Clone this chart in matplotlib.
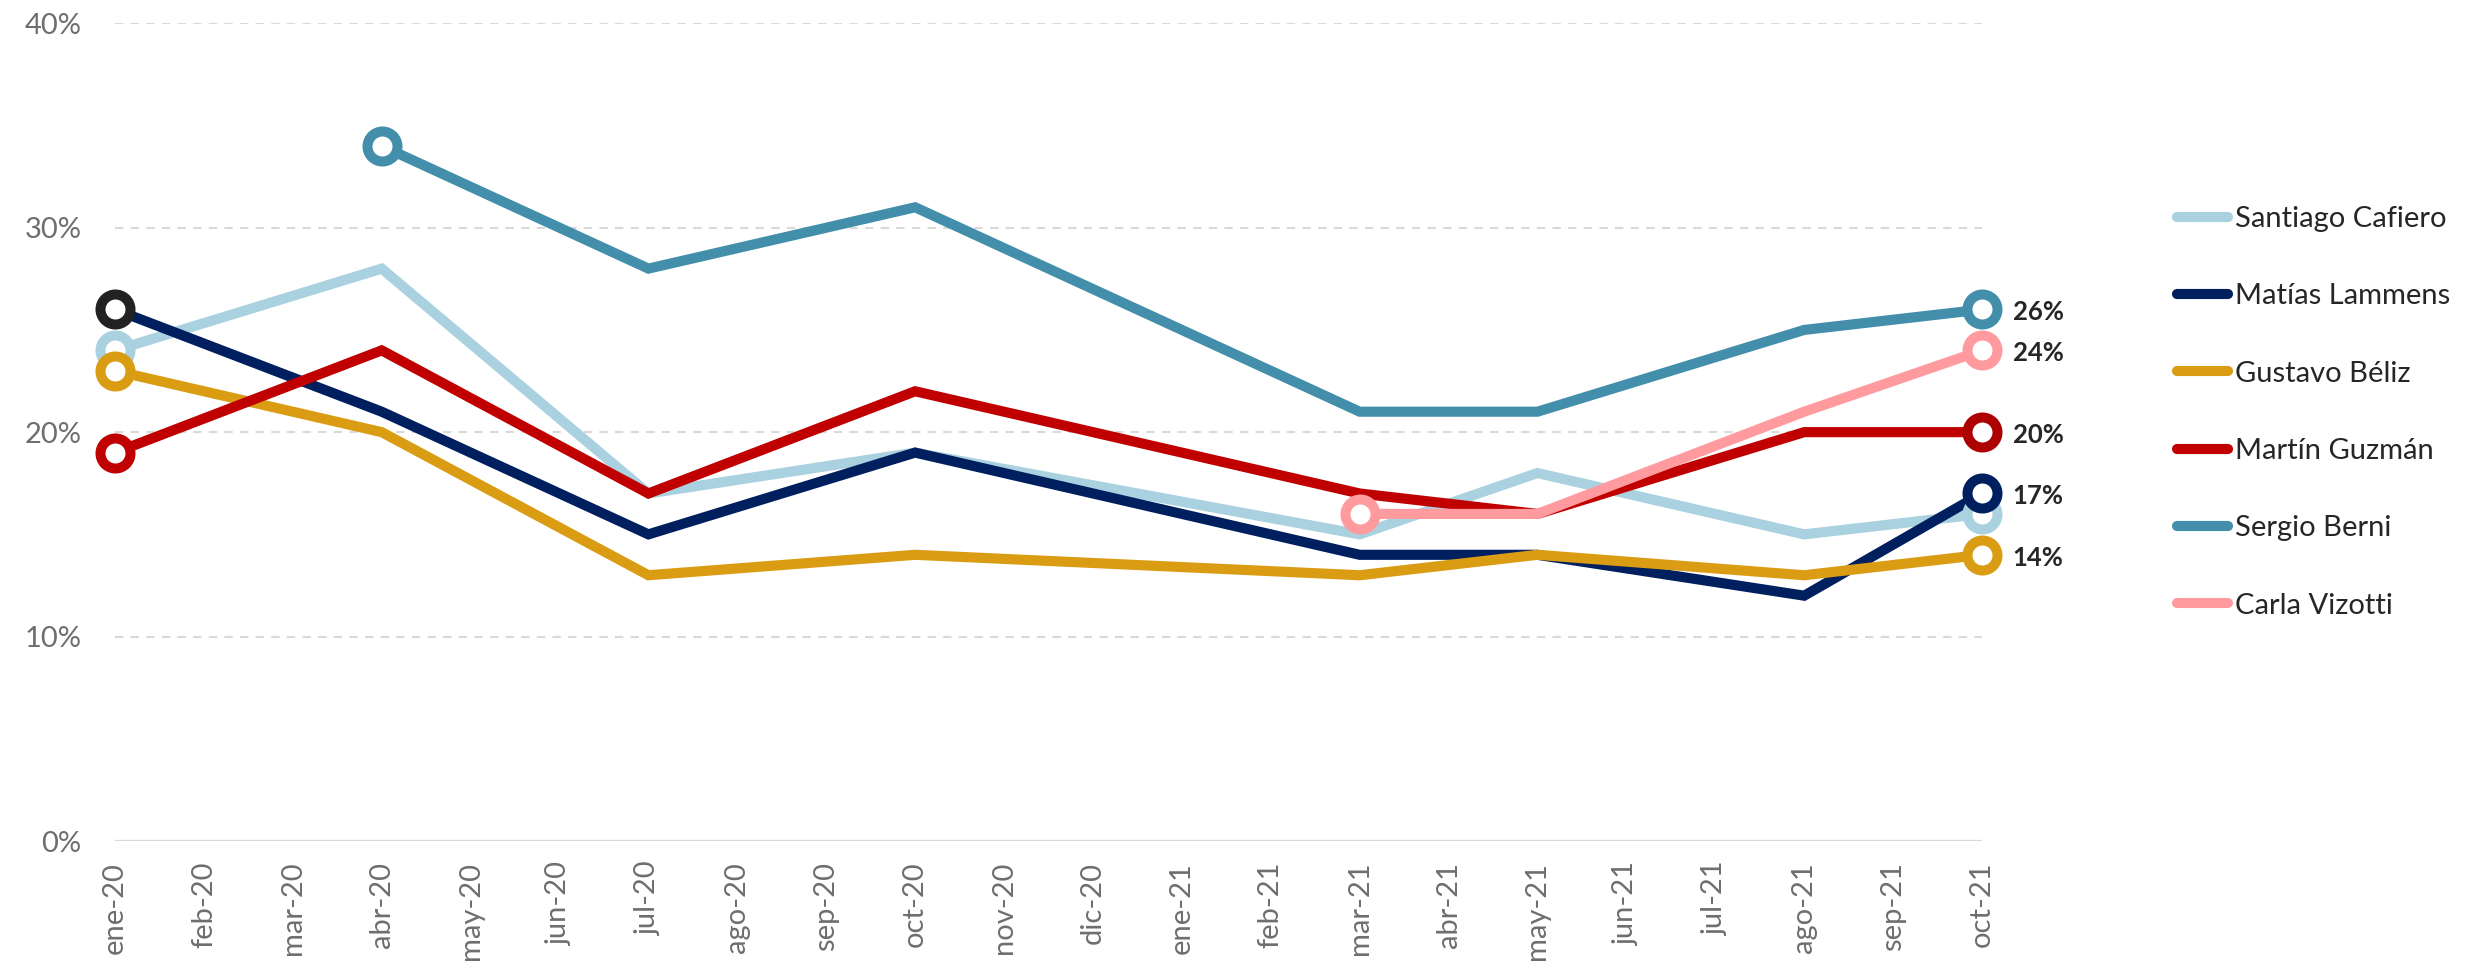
import numpy as np
import matplotlib.pyplot as plt
from matplotlib.lines import Line2D

plt.rcParams['font.family'] = ['Lato', 'DejaVu Sans']

months = ['ene-20', 'feb-20', 'mar-20', 'abr-20', 'may-20', 'jun-20', 'jul-20',
          'ago-20', 'sep-20', 'oct-20', 'nov-20', 'dic-20', 'ene-21', 'feb-21',
          'mar-21', 'abr-21', 'may-21', 'jun-21', 'jul-21', 'ago-21', 'sep-21', 'oct-21']
survey = ['ene-20', 'abr-20', 'jul-20', 'oct-20', 'mar-21', 'may-21', 'ago-21', 'oct-21']

names = ['Santiago Cafiero', 'Matías Lammens', 'Gustavo Béliz',
         'Martín Guzmán', 'Sergio Berni', 'Carla Vizotti']
cafiero = [24, 28, 17, 19, 15, 18, 15, 16]
lammens = [26, 21, 15, 19, 14, 14, 12, 17]
beliz = [23, 20, 13, 14, 13, 14, 13, 14]
guzman = [19, 24, 17, 22, 17, 16, 20, 20]
berni = [None, 34, 28, 31, 21, 21, 25, 26]
vizotti = [None, None, None, None, 16, 16, 21, 24]
series = [cafiero, lammens, beliz, guzman, berni, vizotti]

colors = ['#A9D1DF', '#001F5F', '#DA9C12', '#C00000', '#438FAB', '#FF9B9E']
# marker edge colours differ a bit from the line on a couple of points
start_edge = ['#A9D1DF', '#222222', '#DA9C12', '#C00000', '#438FAB', '#FF9B9E']
end_edge = ['#A9D1DF', '#001F5F', '#DA9C12', '#AD0000', '#438FAB', '#FF9B9E']
labelled = [False, True, True, True, True, True]

fig = plt.figure(figsize=(24.74, 9.67), dpi=100)
ax = fig.add_axes([115 / 2474, 1 - 841 / 967, (1982 - 115) / 2474, (841 - 23.3) / 967])

xs_all = np.array([months.index(m) for m in survey])
handles = []
for i, vals in enumerate(series):
    v = np.array([np.nan if a is None else a / 100 for a in vals])
    ok = ~np.isnan(v)
    x = xs_all[ok]
    y = v[ok]
    ax.plot(x, y, color=colors[i], lw=7.3, solid_joinstyle='miter', zorder=3 + i)
    for xx, yy, ec in [(x[0], y[0], start_edge[i]), (x[-1], y[-1], end_edge[i])]:
        ax.plot([xx], [yy], 'o', ms=21.6, mew=7.2, mfc='white', mec=ec,
                zorder=10 + i, clip_on=False)
    if labelled[i]:
        ax.annotate(f'{vals[-1]}%', (x[-1], y[-1]), xytext=(22, -2),
                    textcoords='offset points', va='center', ha='left',
                    fontsize=18.5, fontweight='bold', color='#262626')
    handles.append(Line2D([], [], color=colors[i], lw=7.3, solid_capstyle='round'))

ax.set_xlim(0, 21)
ax.set_ylim(0, 0.40)
ax.set_yticks([0, 0.1, 0.2, 0.3, 0.4])
ax.set_yticklabels(['0%', '10%', '20%', '30%', '40%'])
ax.set_xticks(range(len(months)))
ax.set_xticklabels(months, rotation=90)
ax.tick_params(axis='both', length=0, labelsize=21, labelcolor='#6E6E6E')
ax.tick_params(axis='y', pad=24)
ax.tick_params(axis='x', pad=15)
for s in ax.spines.values():
    s.set_visible(False)
ax.grid(axis='y', color='#D9D9D9', lw=1.5, ls=(0, (4, 3.5)))
ax.grid(axis='x', visible=False)
ax.axhline(0, color='#D9D9D9', lw=1.6, zorder=2)
ax.set_axisbelow(True)

fig.legend(handles, names, loc='upper left', bbox_to_anchor=(2177 / 2474, 1 - 206 / 967),
           frameon=False, fontsize=21, labelcolor='#262626', handlelength=1.75,
           handletextpad=0.25, labelspacing=1.76, borderpad=0, borderaxespad=0)

fig.savefig('out.png', dpi=100, facecolor='white')
